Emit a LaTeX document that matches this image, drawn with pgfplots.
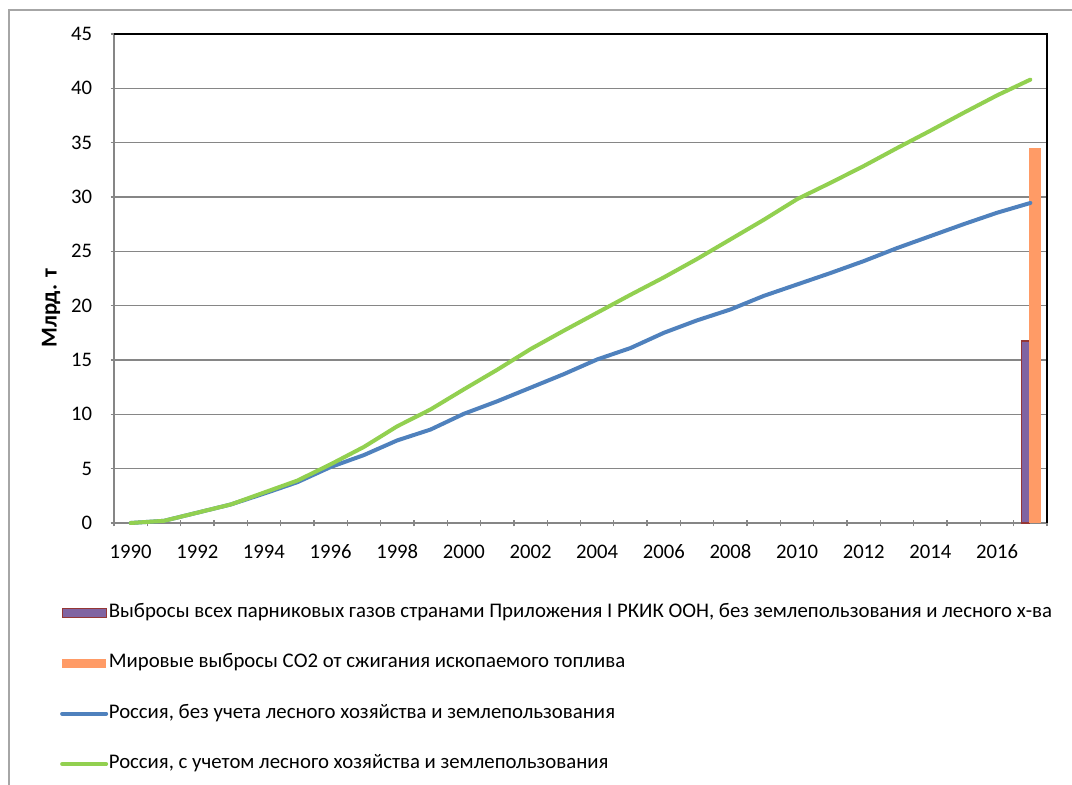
\documentclass[border=0pt]{standalone}
\usepackage{fontspec}
\setmainfont{Carlito}
\usepackage{pgfplots}
\pgfplotsset{compat=1.18}

\definecolor{blueline}{RGB}{79,129,189}
\definecolor{greenline}{RGB}{146,208,80}
\definecolor{purplebar}{RGB}{128,100,162}
\definecolor{purpleedge}{RGB}{149,55,53}
\definecolor{orangebar}{RGB}{255,155,102}
\definecolor{gridgray}{RGB}{134,134,134}
\definecolor{framegray}{RGB}{166,166,166}

\pgfplotsset{
    boxlegend/.style={legend image code/.code={\draw[##1] (0pt,-3.5pt) rectangle (33pt,3.5pt);}},
    orangelegend/.style={legend image code/.code={\fill[orangebar] (0pt,-3.5pt) rectangle (33pt,3.5pt);}},
    linelegend/.style={legend image code/.code={\draw[##1] (0pt,0pt) -- (33pt,0pt);}},
}

\begin{document}
\begin{tikzpicture}[x=0.75pt,y=0.75pt]
% page = 1072 x 785 px
\path[use as bounding box] (0,0) rectangle (1072,785);
\draw[framegray, line width=1pt] (9,0) -- (9,775) -- (1072,775);

\begin{axis}[
    at={(85.5pt,196.5pt)}, anchor=south west,
    scale only axis,
    width=699.75pt, height=366.75pt,
    xmin=-0.5, xmax=27.5,
    ymin=0, ymax=45,
    xtick={0,2,...,26},
    xticklabels={1990,1992,1994,1996,1998,2000,2002,2004,2006,2008,2010,2012,2014,2016},
    minor xtick={-0.5,0.5,...,27.5},
    ytick={0,5,...,45},
    minor ytick={0,5,...,45},
    tick align=outside,
    major tick length=0pt,
    minor tick length=5pt,
    minor tick style={draw=gridgray, line width=1pt},
    ymajorgrids,
    grid style={gridgray, line width=1pt},
    axis lines=left,
    axis line style={gridgray, line width=1pt, -},
    tick label style={font=\fontsize{15.5}{18}\selectfont},
    xticklabel style={anchor=north, inner sep=0pt, text height=10pt, text depth=0pt, yshift=-16.2pt},
    yticklabel style={anchor=east, inner sep=0pt, xshift=-16.2pt},
    /pgf/number format/assume math mode=true,
    ylabel={\textbf{Млрд. т}},
    every axis y label/.style={at={(axis description cs:-0.0675,0.439)}, rotate=90, anchor=center},
    ylabel style={font=\fontsize{17}{20}\selectfont},
    clip=false,
    legend cell align=left,
    legend style={
        at={(axis description cs:-0.058,-0.16)}, anchor=north west,
        draw=none, fill=none,
        font=\fontsize{15.6}{18}\selectfont,
        row sep=20.8pt, column sep=0pt,
        inner sep=0pt,
        nodes={inner xsep=0.5pt, inner ysep=1pt, text height=11pt, text depth=4pt},
    },
]

\addplot[ybar, bar width=0.24, bar shift=-0.15, fill=purplebar, draw=purpleedge, line width=0.8pt, boxlegend]
    coordinates {(27,16.75)};
\addlegendentry{Выбросы всех парниковых газов странами Приложения I РКИК ООН, без землепользования и лесного х-ва}

\addplot[ybar, bar width=0.36, bar shift=0.15, fill=orangebar, draw=none, orangelegend]
    coordinates {(27,34.5)};
\addlegendentry{Мировые выбросы СО2 от сжигания ископаемого топлива}

\addplot[blueline, line width=3pt, line join=round, line cap=round, linelegend]
    coordinates {
    (0,0)(1,0.2)(2,0.95)(3,1.7)(4,2.7)(5,3.75)(6,5.15)(7,6.25)(8,7.6)(9,8.6)
    (10,10.05)(11,11.2)(12,12.45)(13,13.7)(14,15.05)(15,16.1)(16,17.5)(17,18.65)
    (18,19.65)(19,20.9)(20,21.95)(21,23.0)(22,24.1)(23,25.3)(24,26.4)(25,27.5)
    (26,28.55)(27,29.45)
    };
\addlegendentry{Россия, без учета лесного хозяйства и землепользования}

\addplot[greenline, line width=3pt, line join=round, line cap=round, linelegend]
    coordinates {
    (0,0)(1,0.2)(2,0.95)(3,1.7)(4,2.8)(5,3.9)(6,5.4)(7,7.0)(8,8.9)(9,10.45)
    (10,12.3)(11,14.1)(12,16.0)(13,17.7)(14,19.35)(15,21.0)(16,22.6)(17,24.3)
    (18,26.1)(19,27.9)(20,29.8)(21,31.3)(22,32.85)(23,34.5)(24,36.1)(25,37.75)
    (26,39.35)(27,40.8)
    };
\addlegendentry{Россия, с учетом лесного хозяйства и землепользования}

\draw[black, line width=1pt] (rel axis cs:0,1) -- (rel axis cs:1,1) -- (rel axis cs:1,0);
\end{axis}
\end{tikzpicture}
\end{document}
